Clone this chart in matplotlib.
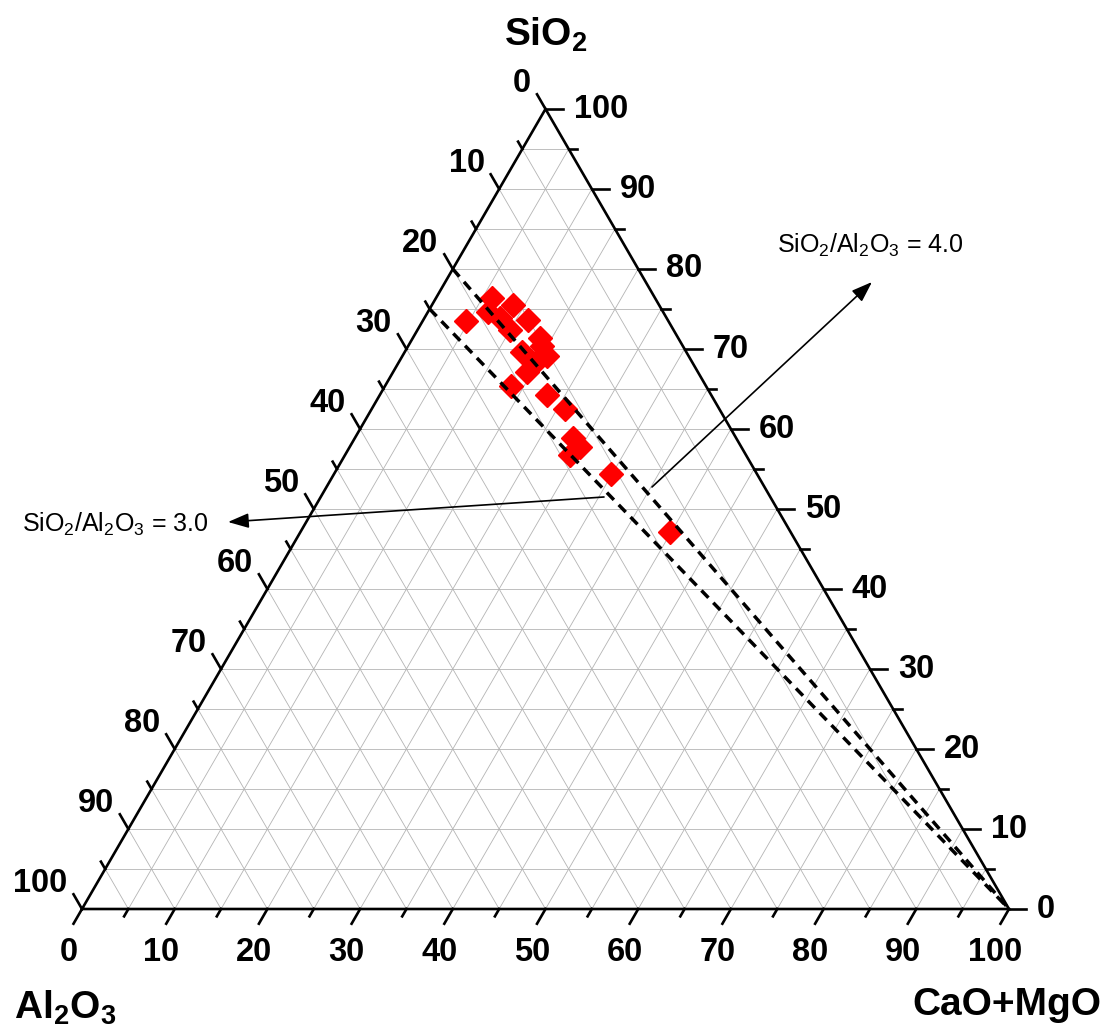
import numpy as np
import matplotlib
matplotlib.use('Agg')
import matplotlib.pyplot as plt

plt.rcParams['font.family'] = ['Liberation Sans', 'DejaVu Sans']
plt.rcParams['mathtext.fontset'] = 'custom'
plt.rcParams['mathtext.rm'] = 'Liberation Sans'
plt.rcParams['mathtext.bf'] = 'Liberation Sans:bold'

# sample compositions in wt%
sio2 = [73.5, 76.4, 75.5, 74.6, 73.9, 73.6, 72.4, 71.4, 70.4, 69.1, 69.6,
        68.3, 67.1, 65.4, 64.3, 62.5, 58.9, 57.8, 56.8, 54.4, 47.1]
al2o3 = [21.8, 17.6, 15.8, 18.9, 18.0, 15.1, 17.6, 14.9, 15.2, 15.3, 17.7,
         17.0, 18.4, 21.0, 17.7, 16.7, 17.6, 17.4, 19.0, 15.7, 13.0]
cao_mgo = [4.7, 6.0, 8.7, 6.5, 8.1, 11.3, 10.0, 13.7, 14.4, 15.6, 12.7,
           14.7, 14.5, 13.6, 18.0, 20.8, 23.5, 24.8, 24.2, 29.9, 39.9]

# SiO2/Al2O3 reference lines drawn from the CaO+MgO corner
ratios = [4.0, 3.0]
ticks = list(range(0, 101, 5))

h = np.sqrt(3) / 2
SX = 927.0          # pixels per unit, horizontal
SY = 800.0 / h      # pixels per unit, vertical


def tern(c, s):
    # c = CaO+MgO, s = SiO2 (percent) -> cartesian
    c = np.asarray(c, dtype=float) / 100.0
    s = np.asarray(s, dtype=float) / 100.0
    return c + s / 2, s * h


def off(x, y, dx, dy):
    # shift a point by some pixels
    return x + dx / SX, y + dy / SY


def P(px, py):
    # pixel position -> data position
    return (px - 82) / SX, (909 - py) / SY


fig = plt.figure(figsize=(11.07, 10.34), dpi=100)
ax = fig.add_axes([0, 0, 1, 1])
ax.set_xlim(-82 / SX, (1107 - 82) / SX)
ax.set_ylim(-(1034 - 909) / SY, 909 / SY)
ax.axis('off')

# grid every 5 %
gc = '#b4b4b4'
for v in range(5, 100, 5):
    x, y = tern([0, 100 - v], [v, v])
    ax.plot(x, y, color=gc, lw=0.6, zorder=1)
    x, y = tern([v, v], [0, 100 - v])
    ax.plot(x, y, color=gc, lw=0.6, zorder=1)
    x, y = tern([0, 100 - v], [100 - v, 0])
    ax.plot(x, y, color=gc, lw=0.6, zorder=1)

# triangle
x, y = tern([0, 100, 0, 0], [0, 0, 100, 0])
ax.plot(x, y, color='k', lw=1.9, zorder=3, solid_joinstyle='miter')

# ticks and labels
fs = 23.5
for v in ticks:
    L = 17 if v % 10 == 0 else 8.5
    # bottom: CaO+MgO
    x0, y0 = tern(v, 0)
    x1, y1 = off(x0, y0, -0.5 * L, -h * L)
    ax.plot([x0, x1], [y0, y1], color='k', lw=1.9, zorder=3)
    if v % 10 == 0:
        ax.text(*off(x1, y1, -5, -13), str(v), ha='center', va='top',
                fontsize=fs, fontweight='bold')
    # right: SiO2
    x0, y0 = tern(100 - v, v)
    x1, y1 = off(x0, y0, L, 0)
    ax.plot([x0, x1], [y0, y1], color='k', lw=1.9, zorder=3)
    if v % 10 == 0:
        ax.text(*off(x1, y1, 11, 0), str(v), ha='left', va='center',
                fontsize=fs, fontweight='bold')
    # left: Al2O3
    x0, y0 = tern(0, 100 - v)
    x1, y1 = off(x0, y0, -0.5 * L, h * L)
    ax.plot([x0, x1], [y0, y1], color='k', lw=1.9, zorder=3)
    if v % 10 == 0:
        ax.text(*off(x1, y1, -6, 10.4), str(v), ha='right', va='center',
                fontsize=fs, fontweight='bold')

# ratio lines
for r in ratios:
    s_edge = 100 * r / (1 + r)
    x, y = tern([0, 100], [s_edge, 0])
    ax.plot(x, y, color='k', lw=2.5, ls=(0, (2.9, 2.0)), zorder=5)

# samples
tot = np.array(sio2) + np.array(al2o3) + np.array(cao_mgo)
px, py = tern(100 * np.array(cao_mgo) / tot, 100 * np.array(sio2) / tot)
ax.plot(px, py, 'D', color='red', ms=12.5, mec='red', ls='none', zorder=4)

# axis titles
ax.text(*P(546, 35), r'$\mathbf{SiO_2}$', ha='center', va='center', fontsize=28)
ax.text(*P(14, 1008), r'$\mathbf{Al_2O_3}$', ha='left', va='center', fontsize=28)
ax.text(*P(1101, 1005), 'CaO+MgO', ha='right', va='center', fontsize=28,
        fontweight='bold')

# annotations
ax.text(*P(870, 245), r'$\mathregular{SiO_2/Al_2O_3}$ = 4.0', ha='center',
        va='center', fontsize=18)
ax.text(*P(22, 524), r'$\mathregular{SiO_2/Al_2O_3}$ = 3.0', ha='left',
        va='center', fontsize=18)
aprops = dict(arrowstyle='-|>,head_length=0.7,head_width=0.25', color='k', lw=1.2,
              mutation_scale=18, shrinkA=0, shrinkB=0)
ax.annotate('', xy=P(872, 282), xytext=P(652, 487), arrowprops=aprops, zorder=6)
ax.annotate('', xy=P(228, 522), xytext=P(604, 497), arrowprops=aprops, zorder=6)

fig.savefig('out.png', dpi=100)
